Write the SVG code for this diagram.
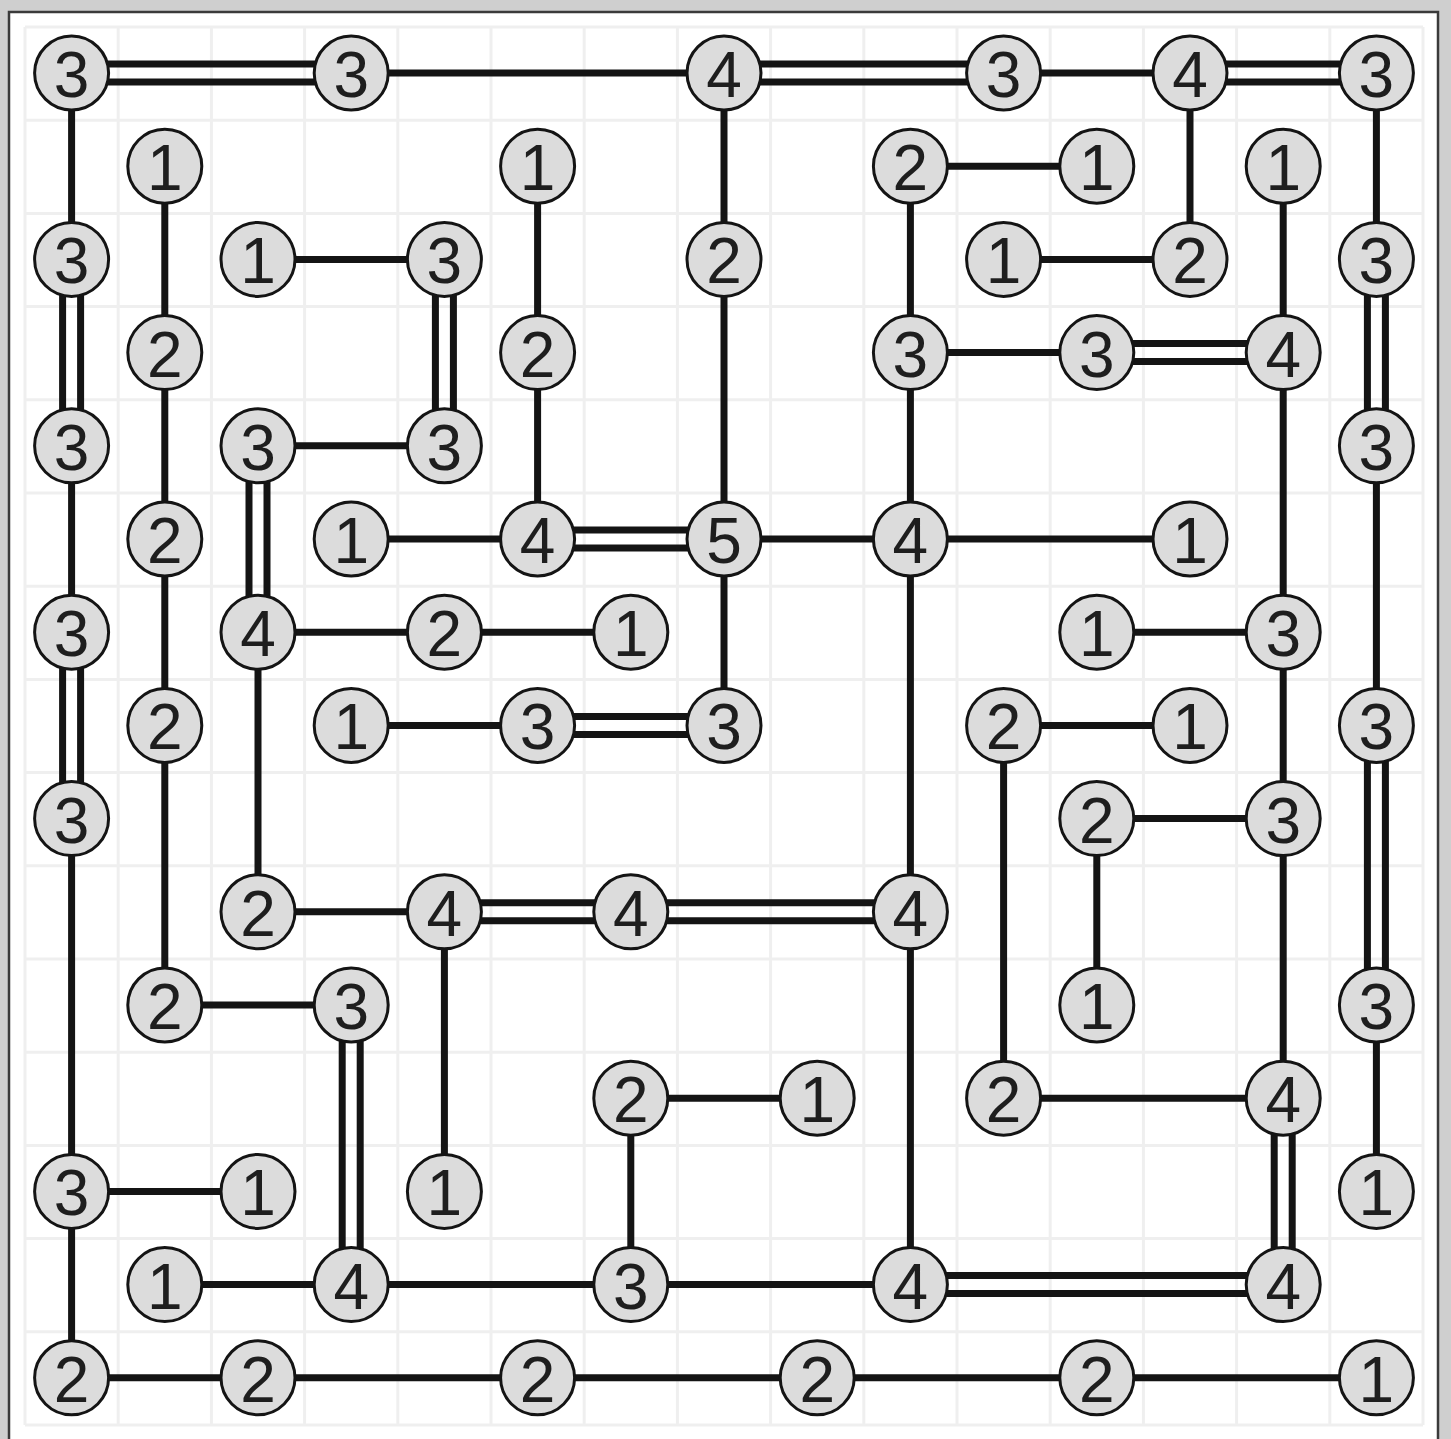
<svg xmlns="http://www.w3.org/2000/svg" width="1451" height="1439" viewBox="0 0 1451 1439">
<style>
.grid line{stroke:#efefef;stroke-width:3}
.br{stroke:#141414;stroke-width:7;fill:none}
.nd circle{fill:#dcdcdc;stroke:#141414;stroke-width:3}
.nd text{font-family:"Liberation Sans",Arial,sans-serif;font-size:64px;fill:#1e1e1e;text-anchor:middle}
</style>
<defs>
<linearGradient id="bg" x1="0" y1="0" x2="0" y2="1"><stop offset="0" stop-color="#e6e6e6"/><stop offset="1" stop-color="#bdbdbd"/></linearGradient>
</defs>
<rect x="0" y="0" width="1451" height="1439" fill="#cfcfcf"/>
<rect x="9" y="12" width="1429" height="1440" fill="#ffffff" stroke="#3a3a3a" stroke-width="2.5"/>
<g class="grid">
<line x1="25" y1="27" x2="25" y2="1425"/><line x1="118.2" y1="27" x2="118.2" y2="1425"/><line x1="211.4" y1="27" x2="211.4" y2="1425"/><line x1="304.6" y1="27" x2="304.6" y2="1425"/><line x1="397.8" y1="27" x2="397.8" y2="1425"/><line x1="491" y1="27" x2="491" y2="1425"/><line x1="584.2" y1="27" x2="584.2" y2="1425"/><line x1="677.4" y1="27" x2="677.4" y2="1425"/><line x1="770.6" y1="27" x2="770.6" y2="1425"/><line x1="863.8" y1="27" x2="863.8" y2="1425"/><line x1="957" y1="27" x2="957" y2="1425"/><line x1="1050.2" y1="27" x2="1050.2" y2="1425"/><line x1="1143.4" y1="27" x2="1143.4" y2="1425"/><line x1="1236.6" y1="27" x2="1236.6" y2="1425"/><line x1="1329.8" y1="27" x2="1329.8" y2="1425"/><line x1="1423" y1="27" x2="1423" y2="1425"/>
<line x1="25" y1="27" x2="1423" y2="27"/><line x1="25" y1="120.2" x2="1423" y2="120.2"/><line x1="25" y1="213.4" x2="1423" y2="213.4"/><line x1="25" y1="306.6" x2="1423" y2="306.6"/><line x1="25" y1="399.8" x2="1423" y2="399.8"/><line x1="25" y1="493" x2="1423" y2="493"/><line x1="25" y1="586.2" x2="1423" y2="586.2"/><line x1="25" y1="679.4" x2="1423" y2="679.4"/><line x1="25" y1="772.6" x2="1423" y2="772.6"/><line x1="25" y1="865.8" x2="1423" y2="865.8"/><line x1="25" y1="959" x2="1423" y2="959"/><line x1="25" y1="1052.2" x2="1423" y2="1052.2"/><line x1="25" y1="1145.4" x2="1423" y2="1145.4"/><line x1="25" y1="1238.6" x2="1423" y2="1238.6"/><line x1="25" y1="1331.8" x2="1423" y2="1331.8"/><line x1="25" y1="1425" x2="1423" y2="1425"/>
</g>
<g id="connectors" class="br">
<!-- horizontal singles -->
<path d="M351.2 73H724 M1003.6 73H1190 M910.4 166.2H1096.8 M258 259.4H444.4 M1003.6 259.4H1190 M910.4 352.6H1096.8 M258 445.8H444.4 M351.2 539H537.6 M724 539H910.4 M910.4 539H1190 M258 632.2H444.4 M444.4 632.2H630.8 M1096.8 632.2H1283.2 M351.2 725.4H537.6 M1003.6 725.4H1190 M1096.8 818.6H1283.2 M258 911.8H444.4 M164.8 1005H351.2 M630.8 1098.2H817.2 M1003.6 1098.2H1283.2 M71.6 1191.4H258 M164.8 1284.6H351.2 M351.2 1284.6H630.8 M630.8 1284.6H910.4 M71.6 1377.8H1376.4"/>
<!-- horizontal doubles -->
<path d="M71.6 64H351.2 M71.6 82H351.2 M724 64H1003.6 M724 82H1003.6 M1190 64H1376.4 M1190 82H1376.4 M1096.8 343.6H1283.2 M1096.8 361.6H1283.2 M537.6 530H724 M537.6 548H724 M537.6 716.4H724 M537.6 734.4H724 M444.4 902.8H910.4 M444.4 920.8H910.4 M910.4 1275.6H1283.2 M910.4 1293.6H1283.2"/>
<!-- vertical singles -->
<path d="M71.6 73V259.4 M71.6 445.8V632.2 M71.6 818.6V1377.8 M164.8 166.2V1005 M258 632.2V911.8 M444.4 911.8V1191.4 M537.6 166.2V539 M630.8 1098.2V1284.6 M724 73V725.4 M910.4 166.2V1284.6 M1003.6 725.4V1098.2 M1096.8 818.6V1005 M1190 73V259.4 M1283.2 166.2V1098.2 M1376.4 73V259.4 M1376.4 445.8V725.4 M1376.4 1005V1191.4"/>
<!-- vertical doubles -->
<path d="M62.6 259.4V445.8 M80.6 259.4V445.8 M62.6 632.2V818.6 M80.6 632.2V818.6 M249 445.8V632.2 M267 445.8V632.2 M342.2 1005V1284.6 M360.2 1005V1284.6 M435.4 259.4V445.8 M453.4 259.4V445.8 M1274.2 1098.2V1284.6 M1292.2 1098.2V1284.6 M1367.4 259.4V445.8 M1385.4 259.4V445.8 M1367.4 725.4V1005 M1385.4 725.4V1005"/>
</g>
<g class="nd">
<g id="n0_0"><circle cx="71.6" cy="73" r="37"/><text x="71.6" y="97">3</text></g>
<g id="n0_3"><circle cx="351.2" cy="73" r="37"/><text x="351.2" y="97">3</text></g>
<g id="n0_7"><circle cx="724" cy="73" r="37"/><text x="724" y="97">4</text></g>
<g id="n0_10"><circle cx="1003.6" cy="73" r="37"/><text x="1003.6" y="97">3</text></g>
<g id="n0_12"><circle cx="1190" cy="73" r="37"/><text x="1190" y="97">4</text></g>
<g id="n0_14"><circle cx="1376.4" cy="73" r="37"/><text x="1376.4" y="97">3</text></g>
<g id="n1_1"><circle cx="164.8" cy="166.2" r="37"/><text x="164.8" y="190.2">1</text></g>
<g id="n1_5"><circle cx="537.6" cy="166.2" r="37"/><text x="537.6" y="190.2">1</text></g>
<g id="n1_9"><circle cx="910.4" cy="166.2" r="37"/><text x="910.4" y="190.2">2</text></g>
<g id="n1_11"><circle cx="1096.8" cy="166.2" r="37"/><text x="1096.8" y="190.2">1</text></g>
<g id="n1_13"><circle cx="1283.2" cy="166.2" r="37"/><text x="1283.2" y="190.2">1</text></g>
<g id="n2_0"><circle cx="71.6" cy="259.4" r="37"/><text x="71.6" y="283.4">3</text></g>
<g id="n2_2"><circle cx="258" cy="259.4" r="37"/><text x="258" y="283.4">1</text></g>
<g id="n2_4"><circle cx="444.4" cy="259.4" r="37"/><text x="444.4" y="283.4">3</text></g>
<g id="n2_7"><circle cx="724" cy="259.4" r="37"/><text x="724" y="283.4">2</text></g>
<g id="n2_10"><circle cx="1003.6" cy="259.4" r="37"/><text x="1003.6" y="283.4">1</text></g>
<g id="n2_12"><circle cx="1190" cy="259.4" r="37"/><text x="1190" y="283.4">2</text></g>
<g id="n2_14"><circle cx="1376.4" cy="259.4" r="37"/><text x="1376.4" y="283.4">3</text></g>
<g id="n3_1"><circle cx="164.8" cy="352.6" r="37"/><text x="164.8" y="376.6">2</text></g>
<g id="n3_5"><circle cx="537.6" cy="352.6" r="37"/><text x="537.6" y="376.6">2</text></g>
<g id="n3_9"><circle cx="910.4" cy="352.6" r="37"/><text x="910.4" y="376.6">3</text></g>
<g id="n3_11"><circle cx="1096.8" cy="352.6" r="37"/><text x="1096.8" y="376.6">3</text></g>
<g id="n3_13"><circle cx="1283.2" cy="352.6" r="37"/><text x="1283.2" y="376.6">4</text></g>
<g id="n4_0"><circle cx="71.6" cy="445.8" r="37"/><text x="71.6" y="469.8">3</text></g>
<g id="n4_2"><circle cx="258" cy="445.8" r="37"/><text x="258" y="469.8">3</text></g>
<g id="n4_4"><circle cx="444.4" cy="445.8" r="37"/><text x="444.4" y="469.8">3</text></g>
<g id="n4_14"><circle cx="1376.4" cy="445.8" r="37"/><text x="1376.4" y="469.8">3</text></g>
<g id="n5_1"><circle cx="164.8" cy="539" r="37"/><text x="164.8" y="563">2</text></g>
<g id="n5_3"><circle cx="351.2" cy="539" r="37"/><text x="351.2" y="563">1</text></g>
<g id="n5_5"><circle cx="537.6" cy="539" r="37"/><text x="537.6" y="563">4</text></g>
<g id="n5_7"><circle cx="724" cy="539" r="37"/><text x="724" y="563">5</text></g>
<g id="n5_9"><circle cx="910.4" cy="539" r="37"/><text x="910.4" y="563">4</text></g>
<g id="n5_12"><circle cx="1190" cy="539" r="37"/><text x="1190" y="563">1</text></g>
<g id="n6_0"><circle cx="71.6" cy="632.2" r="37"/><text x="71.6" y="656.2">3</text></g>
<g id="n6_2"><circle cx="258" cy="632.2" r="37"/><text x="258" y="656.2">4</text></g>
<g id="n6_4"><circle cx="444.4" cy="632.2" r="37"/><text x="444.4" y="656.2">2</text></g>
<g id="n6_6"><circle cx="630.8" cy="632.2" r="37"/><text x="630.8" y="656.2">1</text></g>
<g id="n6_11"><circle cx="1096.8" cy="632.2" r="37"/><text x="1096.8" y="656.2">1</text></g>
<g id="n6_13"><circle cx="1283.2" cy="632.2" r="37"/><text x="1283.2" y="656.2">3</text></g>
<g id="n7_1"><circle cx="164.8" cy="725.4" r="37"/><text x="164.8" y="749.4">2</text></g>
<g id="n7_3"><circle cx="351.2" cy="725.4" r="37"/><text x="351.2" y="749.4">1</text></g>
<g id="n7_5"><circle cx="537.6" cy="725.4" r="37"/><text x="537.6" y="749.4">3</text></g>
<g id="n7_7"><circle cx="724" cy="725.4" r="37"/><text x="724" y="749.4">3</text></g>
<g id="n7_10"><circle cx="1003.6" cy="725.4" r="37"/><text x="1003.6" y="749.4">2</text></g>
<g id="n7_12"><circle cx="1190" cy="725.4" r="37"/><text x="1190" y="749.4">1</text></g>
<g id="n7_14"><circle cx="1376.4" cy="725.4" r="37"/><text x="1376.4" y="749.4">3</text></g>
<g id="n8_0"><circle cx="71.6" cy="818.6" r="37"/><text x="71.6" y="842.6">3</text></g>
<g id="n8_11"><circle cx="1096.8" cy="818.6" r="37"/><text x="1096.8" y="842.6">2</text></g>
<g id="n8_13"><circle cx="1283.2" cy="818.6" r="37"/><text x="1283.2" y="842.6">3</text></g>
<g id="n9_2"><circle cx="258" cy="911.8" r="37"/><text x="258" y="935.8">2</text></g>
<g id="n9_4"><circle cx="444.4" cy="911.8" r="37"/><text x="444.4" y="935.8">4</text></g>
<g id="n9_6"><circle cx="630.8" cy="911.8" r="37"/><text x="630.8" y="935.8">4</text></g>
<g id="n9_9"><circle cx="910.4" cy="911.8" r="37"/><text x="910.4" y="935.8">4</text></g>
<g id="n10_1"><circle cx="164.8" cy="1005" r="37"/><text x="164.8" y="1029">2</text></g>
<g id="n10_3"><circle cx="351.2" cy="1005" r="37"/><text x="351.2" y="1029">3</text></g>
<g id="n10_11"><circle cx="1096.8" cy="1005" r="37"/><text x="1096.8" y="1029">1</text></g>
<g id="n10_14"><circle cx="1376.4" cy="1005" r="37"/><text x="1376.4" y="1029">3</text></g>
<g id="n11_6"><circle cx="630.8" cy="1098.2" r="37"/><text x="630.8" y="1122.2">2</text></g>
<g id="n11_8"><circle cx="817.2" cy="1098.2" r="37"/><text x="817.2" y="1122.2">1</text></g>
<g id="n11_10"><circle cx="1003.6" cy="1098.2" r="37"/><text x="1003.6" y="1122.2">2</text></g>
<g id="n11_13"><circle cx="1283.2" cy="1098.2" r="37"/><text x="1283.2" y="1122.2">4</text></g>
<g id="n12_0"><circle cx="71.6" cy="1191.4" r="37"/><text x="71.6" y="1215.4">3</text></g>
<g id="n12_2"><circle cx="258" cy="1191.4" r="37"/><text x="258" y="1215.4">1</text></g>
<g id="n12_4"><circle cx="444.4" cy="1191.4" r="37"/><text x="444.4" y="1215.4">1</text></g>
<g id="n12_14"><circle cx="1376.4" cy="1191.4" r="37"/><text x="1376.4" y="1215.4">1</text></g>
<g id="n13_1"><circle cx="164.8" cy="1284.6" r="37"/><text x="164.8" y="1308.6">1</text></g>
<g id="n13_3"><circle cx="351.2" cy="1284.6" r="37"/><text x="351.2" y="1308.6">4</text></g>
<g id="n13_6"><circle cx="630.8" cy="1284.6" r="37"/><text x="630.8" y="1308.6">3</text></g>
<g id="n13_9"><circle cx="910.4" cy="1284.6" r="37"/><text x="910.4" y="1308.6">4</text></g>
<g id="n13_13"><circle cx="1283.2" cy="1284.6" r="37"/><text x="1283.2" y="1308.6">4</text></g>
<g id="n14_0"><circle cx="71.6" cy="1377.8" r="37"/><text x="71.6" y="1401.8">2</text></g>
<g id="n14_2"><circle cx="258" cy="1377.8" r="37"/><text x="258" y="1401.8">2</text></g>
<g id="n14_5"><circle cx="537.6" cy="1377.8" r="37"/><text x="537.6" y="1401.8">2</text></g>
<g id="n14_8"><circle cx="817.2" cy="1377.8" r="37"/><text x="817.2" y="1401.8">2</text></g>
<g id="n14_11"><circle cx="1096.8" cy="1377.8" r="37"/><text x="1096.8" y="1401.8">2</text></g>
<g id="n14_14"><circle cx="1376.4" cy="1377.8" r="37"/><text x="1376.4" y="1401.8">1</text></g>
</g>
</svg>
